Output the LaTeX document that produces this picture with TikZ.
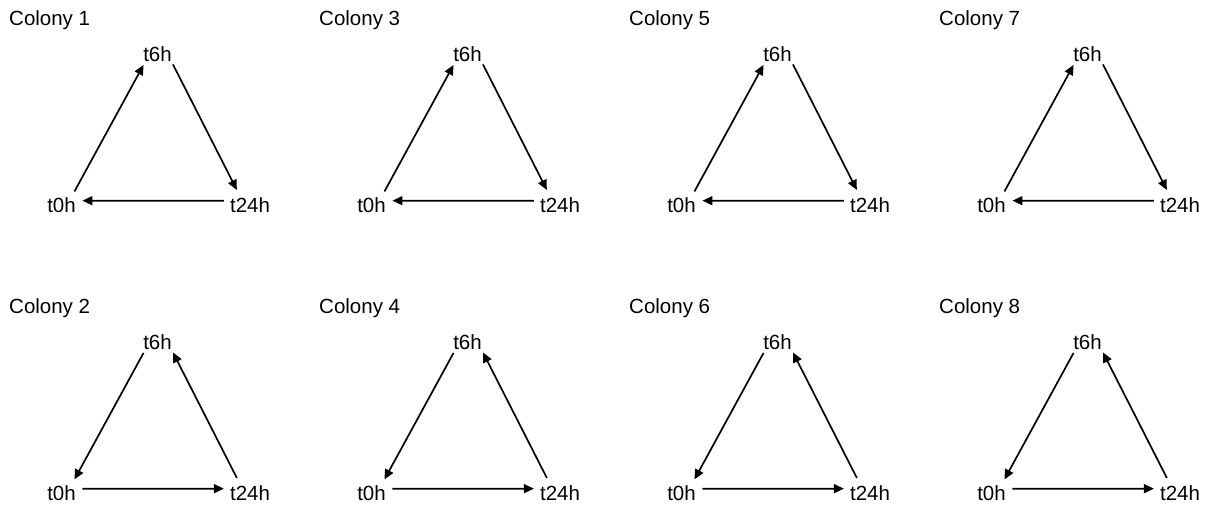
\documentclass[tikz,border=0pt]{standalone}
\usepackage{fontspec}
\setmainfont{Liberation Sans}
\usetikzlibrary{arrows.meta}
\begin{document}
\begin{tikzpicture}[x=1pt,y=-1pt,
  lbl/.style={font=\fontsize{20.5}{24}\selectfont, inner sep=0pt, anchor=base},
  ttl/.style={font=\fontsize{20.5}{24}\selectfont, inner sep=0pt, anchor=base west},
  edgearrow/.style={line width=1.7pt, -{Triangle[length=10pt,width=9pt]}}]
\useasboundingbox (0,0) rectangle (1212,507);
\foreach \r in {0,1}{
 \foreach \k in {0,1,2,3}{
  \pgfmathsetmacro\dx{310*\k}
  \pgfmathsetmacro\dy{288*\r}
  \pgfmathtruncatemacro\n{2*\k+1+\r}
  \node[ttl] (c\k\r) at (9+\dx, 25.5+\dy) {Colony \n};
  \node[lbl] (a\k\r) at (61.5+\dx, 212+\dy) {t0h};
  \node[lbl] (b\k\r) at (157.5+\dx, 61+\dy) {t6h};
  \node[lbl] (d\k\r) at (250+\dx, 212+\dy) {t24h};
  \coordinate (P\k\r) at ([shift={(-1.5,-5.5)}]a\k\r.north east);
  \coordinate (Q\k\r) at ([shift={(0.5,3.5)}]b\k\r.south west);
  \coordinate (R\k\r) at ([shift={(1,3)}]b\k\r.south east);
  \coordinate (S\k\r) at ([shift={(7,-7)}]d\k\r.north west);
  \coordinate (U\k\r) at ([shift={(6.5,-4)}]a\k\r.east);
  \coordinate (V\k\r) at ([shift={(-6,-4)}]d\k\r.west);
  \ifnum\r=0
   \draw[edgearrow] (P\k\r) -- (Q\k\r);
   \draw[edgearrow] (R\k\r) -- (S\k\r);
   \draw[edgearrow] (V\k\r) -- (U\k\r);
  \else
   \draw[edgearrow] (Q\k\r) -- (P\k\r);
   \draw[edgearrow] (S\k\r) -- (R\k\r);
   \draw[edgearrow] (U\k\r) -- (V\k\r);
  \fi
 }}
\end{tikzpicture}
\end{document}
